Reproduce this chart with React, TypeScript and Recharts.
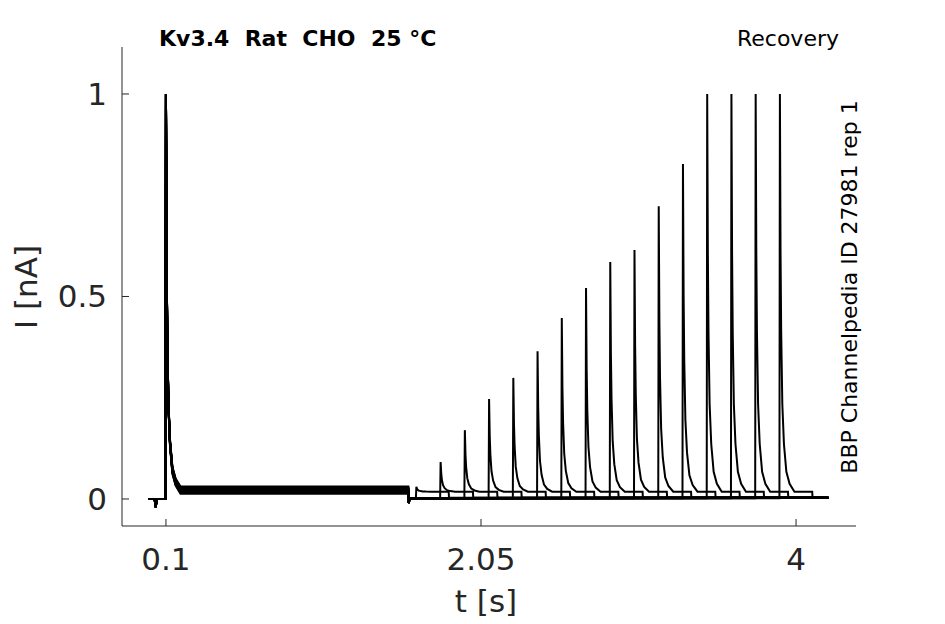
import { LineChart, Line, XAxis, YAxis } from "recharts"

// recovery protocol: conditioning pulse at 0.1 s, test pulses at increasing times
const testTimes = [1.65, 1.8, 1.95, 2.1, 2.25, 2.4, 2.55, 2.7, 2.85, 3.0, 3.15, 3.3, 3.45, 3.6, 3.75, 3.9]
const testPeaks = [0.03, 0.091, 0.17, 0.247, 0.299, 0.365, 0.447, 0.521, 0.585, 0.615, 0.723, 0.827, 1, 1, 1, 1]
const holdLevels = [0.018, 0.022, 0.026, 0.02, 0.029, 0.015, 0.024, 0.021, 0.027, 0.019, 0.023, 0.031, 0.017, 0.022, 0.025, 0.013]

// shape of the current decay after a peak (time after peak, fraction of peak left)
const decayOffsets = [0, 0.004, 0.008, 0.015, 0.025, 0.04, 0.06, 0.09]
const decayFractions = [1, 0.6, 0.4, 0.22, 0.12, 0.05, 0.02, 0]

// baseline before the conditioning pulse
const preTimes = [-0.01, 0.03, 0.036, 0.045, 0.097]
const preValues = [0, 0, -0.02, 0, 0]

const prepulseStart = 0.1
const prepulsePeak = 1
const prepulseEnd = 1.6
const stepUndershoot = -0.01
const gapLevel = 0.002
const afterTestLevel = 0.018
const tailLevel = 0.003
const testDuration = 0.2
const sweepEnd = 4.2

const xTicks = [0.1, 2.05, 4]
const yTicks = [0, 0.5, 1]

const ink = "#262626"
const font = "DejaVu Sans, sans-serif"

function buildSweep(k: number) {
  const pts: { t: number; i: number }[] = []
  preTimes.forEach((t, j) => pts.push({ t, i: preValues[j] }))
  const hold = holdLevels[k]
  decayOffsets.forEach((d, j) =>
    pts.push({ t: prepulseStart + d, i: hold + (prepulsePeak - hold) * decayFractions[j] })
  )
  pts.push({ t: prepulseEnd, i: hold })
  pts.push({ t: prepulseEnd + 0.002, i: stepUndershoot })
  pts.push({ t: prepulseEnd + 0.01, i: gapLevel })
  const t0 = testTimes[k]
  pts.push({ t: t0 - 0.003, i: gapLevel })
  decayOffsets.forEach((d, j) =>
    pts.push({ t: t0 + d, i: afterTestLevel + (testPeaks[k] - afterTestLevel) * decayFractions[j] })
  )
  pts.push({ t: t0 + testDuration, i: afterTestLevel })
  pts.push({ t: t0 + testDuration + 0.002, i: tailLevel })
  pts.push({ t: sweepEnd, i: tailLevel })
  return pts
}

const sweeps = testTimes.map((_, k) => buildSweep(k))

export default function App() {
  return (
    <div style={{ position: "relative", width: 929, height: 608 }}>
      <LineChart width={929} height={608} margin={{ top: 39, right: 81, bottom: 0, left: 0 }}>
        <XAxis
          type="number"
          dataKey="t"
          domain={[-0.172, 4.371]}
          ticks={xTicks}
          interval={0}
          height={90}
          allowDataOverflow
          tickSize={-7}
          tickMargin={29}
          stroke={ink}
          tick={{ fill: ink, fontSize: 31, fontFamily: font }}
        />
        <YAxis
          type="number"
          domain={[-0.0667, 1.116]}
          ticks={yTicks}
          interval={0}
          width={114}
          allowDataOverflow
          tickSize={-7}
          tickMargin={22}
          stroke={ink}
          tick={{ fill: ink, fontSize: 31, fontFamily: font }}
        />
        {sweeps.map((s, k) => (
          <Line
            key={k}
            data={s}
            dataKey="i"
            type="linear"
            stroke="#000"
            strokeWidth={2}
            dot={false}
            activeDot={false}
            isAnimationActive={false}
          />
        ))}
      </LineChart>
      <svg
        width={929}
        height={608}
        style={{ position: "absolute", left: 0, top: 0, overflow: "visible", pointerEvents: "none" }}
      >
        <text x={151} y={38} fontFamily={font} fontSize={22} fontWeight="bold" fill="#000" style={{ whiteSpace: "pre" }}>
          {"Kv3.4  Rat  CHO  25 °C"}
        </text>
        <text x={831} y={38} fontFamily={font} fontSize={22} fill="#000" textAnchor="end">
          Recovery
        </text>
        <text
          x={849}
          y={279}
          fontFamily={font}
          fontSize={22}
          fill="#000"
          textAnchor="middle"
          transform="rotate(-90, 849, 279)"
        >
          BBP Channelpedia ID 27981 rep 1
        </text>
        <text
          x={29}
          y={279}
          fontFamily={font}
          fontSize={31}
          fill={ink}
          textAnchor="middle"
          transform="rotate(-90, 29, 279)"
        >
          I [nA]
        </text>
        <text x={478} y={604} fontFamily={font} fontSize={31} fill={ink} textAnchor="middle">
          t [s]
        </text>
      </svg>
    </div>
  )
}
